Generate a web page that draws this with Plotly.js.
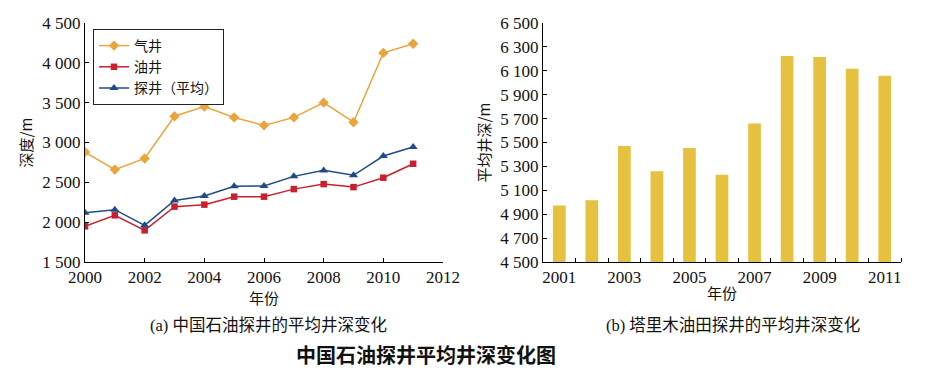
<!DOCTYPE html>
<html><head><meta charset="utf-8">
<script src="https://cdn.plot.ly/plotly-3.0.1.min.js"></script>
<style>html,body{margin:0;padding:0;background:#fff;}#chart{width:928px;height:377px;}</style>
</head><body><div id="chart"></div>
<script>
const yearsA = [2000,2001,2002,2003,2004,2005,2006,2007,2008,2009,2010,2011];
const gasWell = [2880,2660,2800,3330,3450,3315,3215,3315,3500,3255,4125,4240];
const oilWell = [1948,2086,1897,2195,2220,2320,2320,2415,2478,2440,2558,2733];
const exploreWell = [2118,2157,1960,2273,2328,2450,2454,2575,2650,2588,2830,2943];
const yearsB = [2001,2002,2003,2004,2005,2006,2007,2008,2009,2010,2011];
const tarimDepth = [4972,5016,5471,5259,5454,5231,5660,6224,6215,6118,6059];
const labelsB = [2001,2003,2005,2007,2009,2011];
const boundariesB = [2001.5,2002.5,2003.5,2004.5,2005.5,2006.5,2007.5,2008.5,2009.5,2010.5,2011.5];

const serif = 'Liberation Serif, "Noto Sans CJK SC", serif';
const cjk = '"Noto Sans CJK SC", sans-serif';
const W = 928, H = 377;
const px = v => v / W, py = v => 1 - v / H;

const traces = [
  {x: yearsA, y: gasWell, name: '气井', type: 'scatter', mode: 'lines+markers',
   line: {color: '#EBA33C', width: 1.5}, marker: {symbol: 'diamond', size: 8, color: '#EBA33C'}, xaxis: 'x', yaxis: 'y'},
  {x: yearsA, y: oilWell, name: '油井', type: 'scatter', mode: 'lines+markers',
   line: {color: '#C8202C', width: 1.5}, marker: {symbol: 'square', size: 6.5, color: '#C8202C'}, xaxis: 'x', yaxis: 'y'},
  {x: yearsA, y: exploreWell, name: '探井（平均）', type: 'scatter', mode: 'lines+markers',
   line: {color: '#1F4A8A', width: 1.5}, marker: {symbol: 'triangle-up', size: 8, color: '#1F4A8A'}, xaxis: 'x', yaxis: 'y'},
  {x: yearsB, y: tarimDepth, name: '塔里木', type: 'bar', width: 0.39, showlegend: false,
   marker: {color: '#E6C03F'}, xaxis: 'x2', yaxis: 'y2'}
];

const axisBase = {showgrid: false, zeroline: false, showline: true, linecolor: '#000', linewidth: 1,
  ticks: 'inside', ticklen: 4, tickcolor: '#000', tickfont: {family: serif, size: 17, color: '#111'}};
const titleFont = {family: cjk, size: 15, color: '#111'};

const layout = {
  width: W, height: H, margin: {l: 0, r: 0, t: 0, b: 0},
  paper_bgcolor: '#fff', plot_bgcolor: '#fff', separators: '. ',
  font: {family: serif, color: '#111'},
  showlegend: true,
  legend: {x: px(93), y: py(29), xanchor: 'left', yanchor: 'top', bordercolor: '#222', borderwidth: 1,
    bgcolor: '#fff', font: {family: cjk, size: 14, color: '#111'}, tracegroupgap: 0, itemwidth: 30},
  xaxis: Object.assign({}, axisBase, {domain: [px(85), px(443)], range: [2000, 2012], tickvals: [2000,2002,2004,2006,2008,2010,2012],
    anchor: 'y', title: {text: '年份', font: titleFont, standoff: 2}}),
  yaxis: Object.assign({}, axisBase, {domain: [py(262), py(23)], range: [1500, 4500], tick0: 1500, dtick: 500, tickformat: ',d',
    anchor: 'x', title: {text: '深度/m', font: titleFont, standoff: 6}}),
  xaxis2: Object.assign({}, axisBase, {domain: [px(543), px(901)], range: [2000.5, 2011.5], tickvals: labelsB, ticks: '',
    minor: {tickvals: boundariesB, ticks: 'inside', ticklen: 4, tickcolor: '#000'},
    anchor: 'y2', title: {text: '年份', font: titleFont, standoff: 2}}),
  yaxis2: Object.assign({}, axisBase, {domain: [py(262), py(23)], range: [4500, 6500], tick0: 4500, dtick: 200, tickformat: ',d',
    anchor: 'x2', title: {text: '平均井深/m', font: titleFont, standoff: 6}}),
  annotations: [
    {text: '(a) 中国石油探井的平均井深变化', xref: 'paper', yref: 'paper', x: px(268), y: py(325),
     xanchor: 'center', yanchor: 'middle', showarrow: false, font: {family: serif, size: 16.5, color: '#111'}},
    {text: '(b) 塔里木油田探井的平均井深变化', xref: 'paper', yref: 'paper', x: px(733), y: py(325),
     xanchor: 'center', yanchor: 'middle', showarrow: false, font: {family: serif, size: 16.5, color: '#111'}},
    {text: '<b>中国石油探井平均井深变化图</b>', xref: 'paper', yref: 'paper', x: px(426), y: py(354),
     xanchor: 'center', yanchor: 'middle', showarrow: false, font: {family: cjk, size: 20, color: '#111'}}
  ]
};

Plotly.newPlot('chart', traces, layout, {staticPlot: true, displayModeBar: false});
</script></body></html>
